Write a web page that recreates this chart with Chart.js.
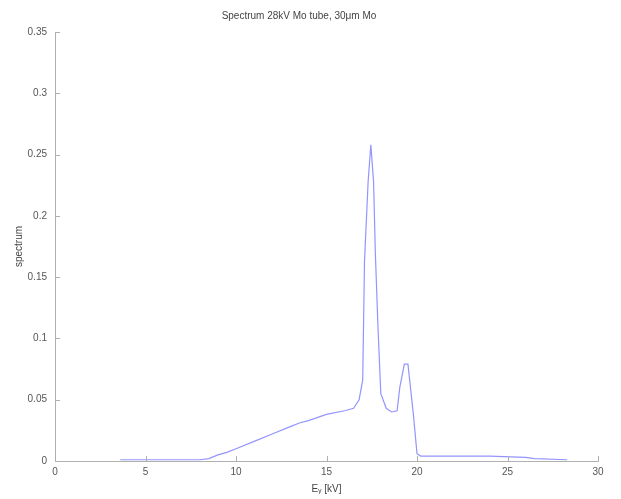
<!DOCTYPE html>
<html>
<head>
<meta charset="utf-8">
<script src="https://cdn.jsdelivr.net/npm/chart.js@4/dist/chart.umd.min.js"></script>
<style>
  html, body { margin: 0; padding: 0; background: #fff; }
  #wrap { width: 621px; height: 499px; }
</style>
</head>
<body>
<div id="wrap"><canvas id="spectrumChart" width="621" height="499"></canvas></div>
<script>
// photon energy [kV] and spectrum values
const energy = [3.6, 4, 5, 6, 7, 8, 8.5, 9, 9.5, 10, 11, 12, 13, 13.5, 14, 15, 16, 16.5, 16.8, 17.0, 17.1, 17.3, 17.45, 17.6, 17.7, 17.85, 18.0, 18.3, 18.6, 18.9, 19.05, 19.3, 19.5, 19.8, 20.0, 20.2, 22, 24, 26, 26.5, 28.3];
const spectrum = [0.001, 0.001, 0.001, 0.001, 0.001, 0.001, 0.002, 0.005, 0.007, 0.010, 0.016, 0.022, 0.028, 0.031, 0.033, 0.038, 0.041, 0.043, 0.050, 0.066, 0.163, 0.228, 0.258, 0.228, 0.169, 0.107, 0.055, 0.043, 0.040, 0.041, 0.060, 0.079, 0.079, 0.038, 0.006, 0.004, 0.004, 0.004, 0.003, 0.002, 0.001];
const xTicks = [0, 5, 10, 15, 20, 25, 30];
const yTicks = [0, 0.05, 0.1, 0.15, 0.2, 0.25, 0.3, 0.35];

const FONT = "'Liberation Sans', Arial, sans-serif";
const axisColor = '#b0b0b0';

// short tick marks pointing into the plot, matlab style
const innerTicks = {
  id: 'innerTicks',
  afterDraw(chart) {
    const { ctx, chartArea: a, scales } = chart;
    ctx.save();
    ctx.strokeStyle = axisColor;
    ctx.lineWidth = 1;
    ctx.beginPath();
    xTicks.forEach(v => {
      const px = Math.round(scales.x.getPixelForValue(v)) + 0.5;
      ctx.moveTo(px, a.bottom);
      ctx.lineTo(px, a.bottom - 5);
    });
    yTicks.forEach(v => {
      const py = Math.round(scales.y.getPixelForValue(v)) + 0.5;
      ctx.moveTo(a.left, py);
      ctx.lineTo(a.left + 5, py);
    });
    ctx.stroke();
    ctx.restore();
  }
};

const points = energy.map((e, i) => ({ x: e, y: spectrum[i] }));

new Chart(document.getElementById('spectrumChart'), {
  type: 'line',
  data: {
    datasets: [{
      data: points,
      borderColor: '#9494ff',
      borderWidth: 1.2,
      pointRadius: 0,
      tension: 0,
      fill: false
    }]
  },
  options: {
    responsive: false,
    animation: false,
    layout: { padding: { left: 0, right: 23, top: 0, bottom: 0 } },
    plugins: {
      legend: { display: false },
      tooltip: { enabled: false },
      title: {
        display: true,
        text: 'Spectrum 28kV Mo tube, 30μm Mo',
        color: '#444',
        font: { family: FONT, size: 10, weight: 'normal' },
        padding: { top: 10, bottom: 10 }
      }
    },
    scales: {
      x: {
        type: 'linear',
        min: 0,
        max: 30,
        afterBuildTicks: s => { s.ticks = xTicks.map(v => ({ value: v })); },
        afterFit: s => { s.height = 38; },
        border: { color: axisColor, width: 1 },
        grid: { display: false, drawTicks: false },
        ticks: { color: '#555', padding: 5, font: { family: FONT, size: 10 }, maxRotation: 0 },
        title: {
          display: true,
          text: 'E\u1d67 [kV]',
          color: '#444',
          font: { family: FONT, size: 10 },
          padding: { top: 4, bottom: 4 }
        }
      },
      y: {
        min: 0,
        max: 0.35,
        afterBuildTicks: s => { s.ticks = yTicks.map(v => ({ value: v })); },
        afterFit: s => { s.width = 55; },
        border: { color: axisColor, width: 1 },
        grid: { display: false, drawTicks: false },
        ticks: {
          color: '#555',
          padding: 8,
          font: { family: FONT, size: 10 },
          callback: v => String(Math.round(v * 100) / 100)
        },
        title: {
          display: true,
          text: 'spectrum',
          color: '#444',
          font: { family: FONT, size: 10 },
          padding: { top: 13, bottom: 0 }
        }
      }
    }
  },
  plugins: [innerTicks]
});
</script>
</body>
</html>
